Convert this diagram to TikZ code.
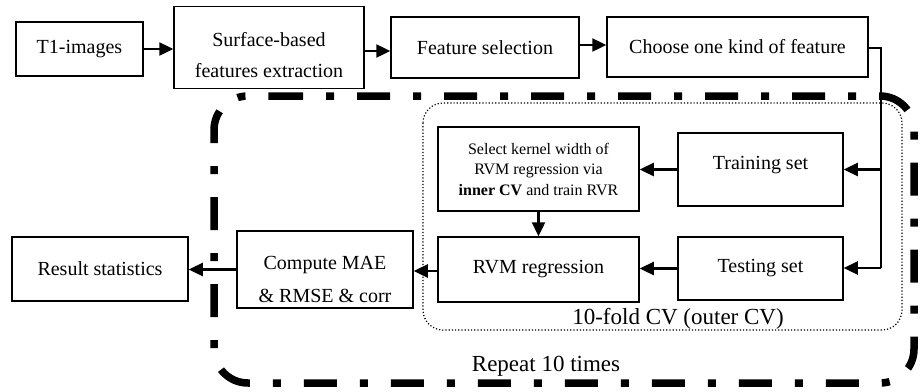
\documentclass[tikz,border=0pt]{standalone}
\usepackage{fontspec}
\setmainfont{Liberation Serif}
\usetikzlibrary{arrows.meta,calc}
\begin{document}
\begin{tikzpicture}[x=1pt,y=-1pt,
  box/.style={draw,line width=1.5pt,align=center,inner sep=0pt,font=\fontsize{20}{25}\selectfont},
  txt/.style={align=center,inner sep=0pt,font=\fontsize{20}{25}\selectfont},
  arr/.style={line width=2.4pt,-{Triangle[length=14pt,width=13pt]}},
  rail/.style={line width=1.6pt},
  loop/.style={line width=7.5pt,rounded corners=34pt,dash pattern=on 33pt off 23pt on 8pt off 23pt}]
\useasboundingbox (0,0) rectangle (920,391);
% outer dash-dot loop
\draw[loop] (270,96) -- (914,96) -- (914,383) -- (214,383) -- (214,96) -- (270,96);
% inner dotted box
\draw[line width=1.2pt,dotted,rounded corners=20pt] (423,103) rectangle (902,330);
% nodes
\node[box,minimum width=127pt,minimum height=54pt] (t1) at (79.5,49) {T1-images};
\node[box,minimum width=190pt,minimum height=82pt] (surf) at (269,47.5) {};
\node[txt,font=\fontsize{20}{31}\selectfont] (surftxt) at (269,55) {Surface-based\\features extraction};
\node[box,minimum width=188pt,minimum height=61pt] (fsel) at (485,47.5) {Feature selection};
\node[box,minimum width=261pt,minimum height=60pt] (choose) at (737.5,47) {Choose one kind of feature};
\node[box,minimum width=165pt,minimum height=73pt] (train) at (760.5,169.5) {};
\node[txt] (traintxt) at (760.5,165) {Training set};
\node[box,minimum width=165pt,minimum height=63pt] (test) at (760.5,268.5) {Testing set};
\node[box,minimum width=201pt,minimum height=84pt,font=\fontsize{16}{20.5}\selectfont] (sel) at (538.5,169)
  {Select kernel width of\\RVM regression via\\\textbf{inner CV} and train RVR};
\node[box,minimum width=201pt,minimum height=65pt] (rvm) at (538.5,269.5) {RVM regression};
\node[box,minimum width=176pt,minimum height=77pt] (comp) at (325,269.5) {};
\node[txt,font=\fontsize{20}{33}\selectfont] (comptxt) at (325,279) {Compute MAE\\\& RMSE \& corr};
\node[box,minimum width=176pt,minimum height=64pt] (res) at (100,269) {Result statistics};
% labels
\node[font=\fontsize{23}{28}\selectfont,inner sep=0pt] (lab10) at (678,319) {10-fold CV (outer CV)};
\node[font=\fontsize{23}{28}\selectfont,inner sep=0pt] (labrep) at (546,366) {Repeat 10 times};
% connectors
\draw[arr] (t1.east) -- (t1.east -| surf.west);
\draw[arr] (surf.east |- 0,51) -- (fsel.west |- 0,51);
\draw[arr] (fsel.east |- 0,45) -- (choose.west |- 0,45);
\coordinate (railtop) at (881,48);
\coordinate (railtr) at (881,169.5);
\coordinate (railte) at (881,268);
\draw[rail] (choose.east |- railtop) -- (railtop) -- (railte);
\draw[arr] (railtr) -- (train.east |- railtr);
\draw[arr] (railte) -- (test.east |- railte);
\draw[arr] (train.west) -- (train.west -| sel.east);
\draw[arr] (test.west) -- (test.west -| rvm.east);
\draw[arr] (sel.south) -- (rvm.north);
\draw[arr] (rvm.west |- 0,271) -- (comp.east |- 0,271);
\draw[arr] (comp.west) -- (comp.west -| res.east);
\end{tikzpicture}
\end{document}
